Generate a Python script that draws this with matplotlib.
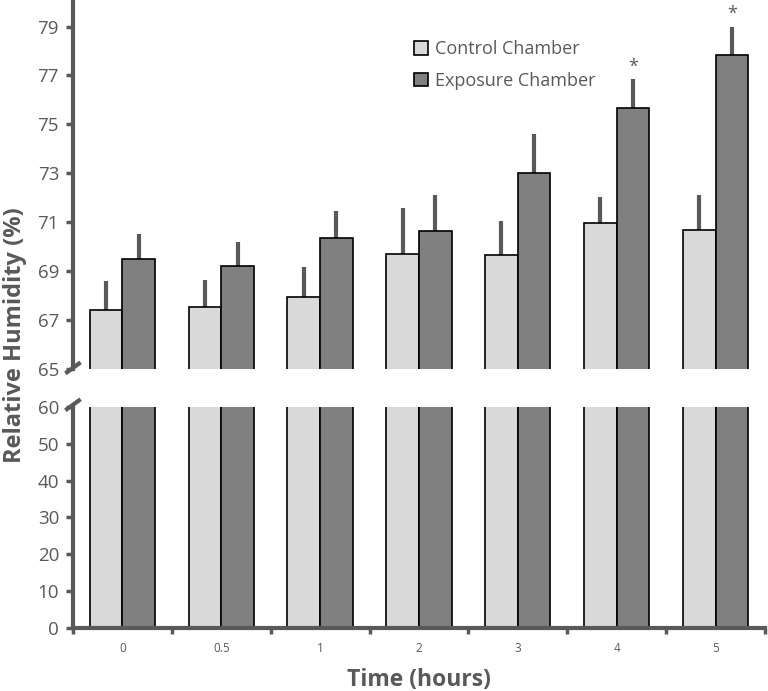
import numpy as np
import matplotlib.pyplot as plt

plt.rcParams['font.family'] = ['Open Sans', 'DejaVu Sans']

times = ["0", "0.5", "1", "2", "3", "4", "5"]
control = [67.4, 67.55, 67.95, 69.7, 69.65, 70.95, 70.7]
control_err = [1.2, 1.1, 1.2, 1.9, 1.4, 1.1, 1.4]
exposure = [69.5, 69.2, 70.35, 70.65, 73.0, 75.65, 77.85]
exposure_err = [1.0, 1.0, 1.1, 1.45, 1.6, 1.2, 1.15]
signif = [False, False, False, False, False, True, True]

grey = "#595959"
c_light = "#d9d9d9"
c_dark = "#808080"
w = 0.33
x = np.arange(len(times))

fig = plt.figure(figsize=(7.68, 6.91), dpi=100)
ax_top = fig.add_axes([0.095, 0.466, 0.901, 0.531])
ax_bot = fig.add_axes([0.095, 0.0912, 0.901, 0.3198])

for ax in (ax_top, ax_bot):
    ax.bar(x - w/2, control, w, color=c_light, edgecolor="black", linewidth=1.2,
           label="Control Chamber", zorder=2)
    ax.bar(x + w/2, exposure, w, color=c_dark, edgecolor="black", linewidth=1.2,
           label="Exposure Chamber", zorder=2)
    ax.set_xlim(-0.5, 6.5)
    for s in ("top", "right"):
        ax.spines[s].set_visible(False)
    ax.spines["left"].set_color(grey)
    ax.spines["left"].set_linewidth(3)
    ax.spines["bottom"].set_color(grey)
    ax.spines["bottom"].set_linewidth(3)
    ax.tick_params(axis="y", colors=grey, labelsize=13.5, width=2.5, length=5,
                   direction="out", pad=5)

# error bars (upper only)
ax_top.errorbar(x - w/2, control, yerr=[np.zeros(len(x)), control_err], fmt="none",
                ecolor=grey, elinewidth=3, capsize=0, zorder=1)
ax_top.errorbar(x + w/2, exposure, yerr=[np.zeros(len(x)), exposure_err], fmt="none",
                ecolor=grey, elinewidth=3, capsize=0, zorder=1)
for i, s in enumerate(signif):
    if s:
        ax_top.text(x[i] + w/2, exposure[i] + exposure_err[i] + 0.15, "*",
                    ha="center", va="bottom", fontsize=13, color=grey)

ax_top.set_ylim(65, 80)
ax_top.set_yticks([65, 67, 69, 71, 73, 75, 77, 79])
ax_top.spines["bottom"].set_visible(False)
ax_top.set_xticks([])

ax_bot.set_ylim(0, 60)
ax_bot.set_yticks(np.arange(0, 61, 10))
ax_bot.set_xticks(x)
ax_bot.set_xticklabels(times)
ax_bot.set_xticks(np.arange(-0.5, 7, 1), minor=True)
ax_bot.tick_params(axis="x", which="major", length=0, colors=grey, labelsize=8.5, pad=10)
ax_bot.tick_params(axis="x", which="minor", length=4, width=2.5, color=grey)

# break marks
kw = dict(color=grey, linewidth=3, clip_on=False, solid_capstyle="butt")
ax_top.plot([-0.011, 0.011], [-0.012, 0.018], transform=ax_top.transAxes, **kw)
ax_bot.plot([-0.011, 0.011], [0.985, 1.035], transform=ax_bot.transAxes, **kw)

ax_top.legend(loc="upper left", bbox_to_anchor=(0.47, 0.94), frameon=False,
              fontsize=13, labelcolor=grey, handlelength=0.75, handleheight=0.75,
              handletextpad=0.4, labelspacing=0.75)

fig.text(0.02, 0.515, "Relative Humidity (%)", rotation=90, ha="center", va="center",
         fontsize=17, fontweight="bold", color=grey)
fig.text(0.546, 0.016, "Time (hours)", ha="center", va="center",
         fontsize=16.5, fontweight="bold", color=grey)

fig.savefig("out.png", dpi=100)
